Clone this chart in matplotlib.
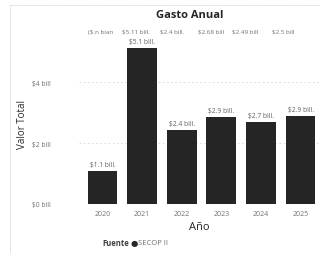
import matplotlib
matplotlib.use('Agg')
import matplotlib.pyplot as plt
from matplotlib.patches import Rectangle

# ── datos ─────────────────────────────────────────────
anios   = ['2020', '2021', '2022', '2023', '2024', '2025']
valores = [1.08, 5.11, 2.43, 2.86, 2.69, 2.89]          # billones
etiquetas = ['$1.1 bill.', '$5.1 bill.', '$2.4 bill.', '$2.9 bill.', '$2.7 bill.', '$2.9 bill.']
fila_sup = ['($.n bian', '$5.11 bill.', '$2.4 bill.', '$2.68 bill', '$2.49 bill', '$2.5 bill']
y_ticks  = [0, 2, 4]
y_labels = ['$0 bill', '$2 bill', '$4 bill']

plt.rcParams['font.family'] = ['Open Sans', 'DejaVu Sans']

fig = plt.figure(figsize=(3.2, 2.55), dpi=100)
fig.patch.set_facecolor('white')

# marco punteado del visual
fig.add_artist(Rectangle((10 / 320, -0.01), 1.0, 0.985, transform=fig.transFigure,
                         fill=False, ec='#c8c8c8', lw=0.6, ls=(0, (1, 1))))

ax = fig.add_axes([78.7 / 320, 50 / 255, 1 - 78.7 / 320, 161.6 / 255])
x = list(range(len(anios)))
ax.bar(x, valores, width=0.75, color='#252525', zorder=2)
ax.set_xlim(-0.6, 5.49)
ax.set_ylim(0, 5.3)

for xi, v, t in zip(x, valores, etiquetas):
    ax.text(xi, v + 0.1, t, ha='center', va='bottom', fontsize=4.8, color='#606060')

# fila superior de etiquetas desbordadas
for xi, t in zip([-0.05, 0.85, 1.75, 2.75, 3.6, 4.55], fila_sup):
    ax.text(xi, 5.58, t, ha='center', va='bottom', fontsize=4.5, color='#707070',
            clip_on=False)

ax.set_xticks(x)
ax.set_xticklabels(anios, fontsize=5, color='#707070')
ax.set_yticks(y_ticks)
ax.set_yticklabels(y_labels, fontsize=4.8, color='#707070')
ax.tick_params(length=0, pad=4)
ax.tick_params(axis='y', pad=20)
ax.yaxis.grid(True, color='#d8d8d8', ls=(0, (2, 3)), lw=0.6, zorder=0)
for s in ax.spines.values():
    s.set_visible(False)

ax.set_ylabel('Valor Total', fontsize=7, color='#252525')
ax.yaxis.set_label_coords(-0.21, 0.5)
ax.set_xlabel('Año', fontsize=8, color='#252525', labelpad=3)

fig.text(190 / 320, 1 - 16 / 255, 'Gasto Anual', ha='center', va='center',
         fontsize=8, fontweight='bold', color='#252525')

fig.text(129 / 320, 1 - 244 / 255, 'Fuente', ha='right', va='center',
         fontsize=5.5, fontweight='bold', color='#404040')
fig.text(134.5 / 320, 1 - 244 / 255, '●', ha='center', va='center',
         fontsize=6, color='#252525', family=['DejaVu Sans'])
fig.text(138 / 320, 1 - 244 / 255, 'SECOP II', ha='left', va='center',
         fontsize=5.5, color='#707070')

fig.savefig('out.png', dpi=100)
